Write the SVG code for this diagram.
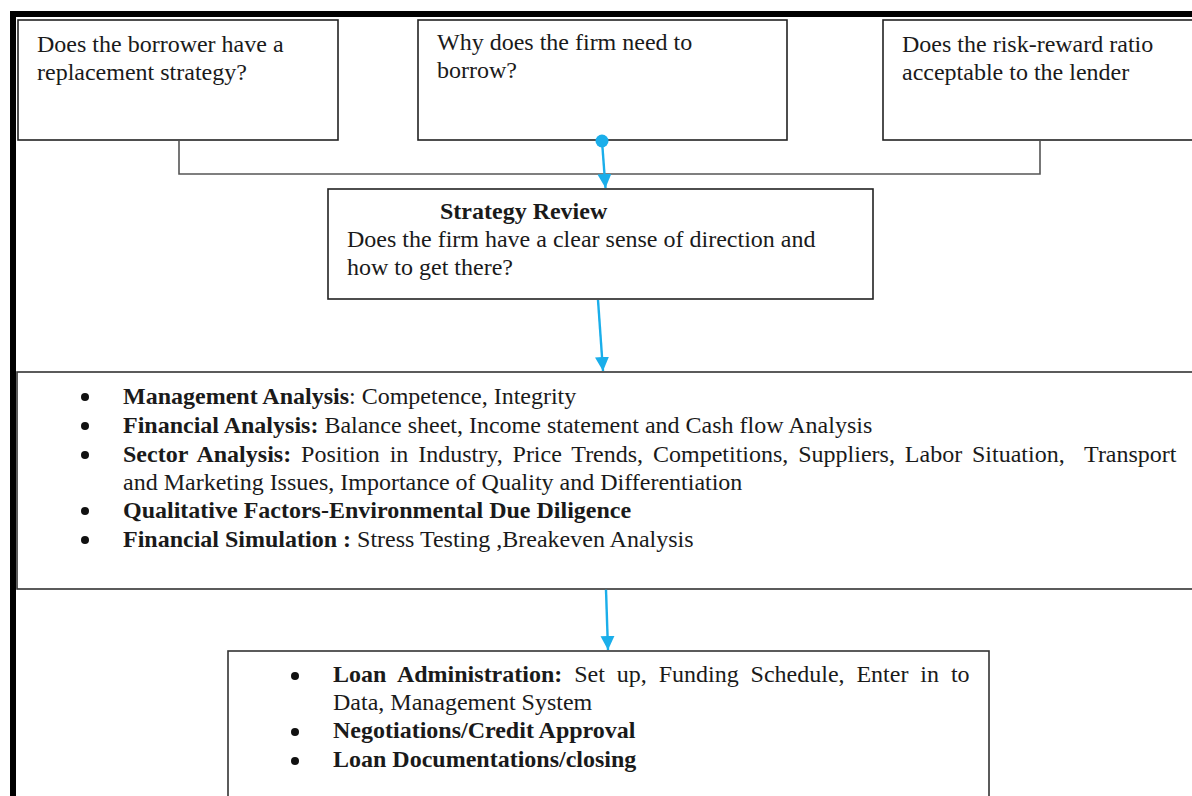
<svg xmlns="http://www.w3.org/2000/svg" width="1192" height="796" viewBox="0 0 1192 796">
<defs>
<style>
.box{fill:#fff;stroke:#222;stroke-width:1.6}
.t{font-family:"Liberation Serif","Times New Roman",serif;font-size:24px;fill:#1a1a1a}
.b{font-weight:bold}
.blue{stroke:#1aaeea;stroke-width:2.4;fill:none}
.bul{fill:#111}
</style>
<marker id="ah" markerUnits="userSpaceOnUse" markerWidth="16" markerHeight="16" refX="14" refY="7" orient="auto">
<path d="M0,0 L14,7 L0,14 Z" fill="#1aaeea"/>
</marker>
</defs>
<rect width="1192" height="796" fill="#fff"/>
<g id="frame">
<path d="M13,796 V14 H1192" fill="none" stroke="#000" stroke-width="6"/>
</g>
<g id="box1">
<rect class="box" x="18" y="20" width="320" height="120"/>
<text class="t" x="37" y="52">Does the borrower have a</text>
<text class="t" x="37" y="80">replacement strategy?</text>
</g>
<g id="box2">
<rect class="box" x="418" y="20" width="369" height="120"/>
<text class="t" x="437" y="50">Why does the firm need to</text>
<text class="t" x="437" y="78">borrow?</text>
</g>
<g id="box3">
<rect class="box" x="883" y="20" width="330" height="120"/>
<text class="t" x="902" y="52">Does the risk-reward ratio</text>
<text class="t" x="902" y="80">acceptable to the lender</text>
</g>
<g id="strategy">
<rect class="box" x="328" y="189" width="545" height="110"/>
<text class="t b" x="440" y="219">Strategy Review</text>
<text class="t" x="347" y="247">Does the firm have a clear sense of direction and</text>
<text class="t" x="347" y="275">how to get there?</text>
</g>
<g id="analysis">
<rect class="box" x="17" y="372" width="1190" height="217" style="stroke:#333"/>
<circle class="bul" cx="85" cy="397" r="4"/>
<circle class="bul" cx="85" cy="426" r="4"/>
<circle class="bul" cx="85" cy="455" r="4"/>
<circle class="bul" cx="85" cy="511" r="4"/>
<circle class="bul" cx="85" cy="540" r="4"/>
<text class="t" x="123" y="404"><tspan class="b">Management Analysis</tspan>: Competence, Integrity</text>
<text class="t" x="123" y="433"><tspan class="b">Financial Analysis:</tspan> Balance sheet, Income statement and Cash flow Analysis</text>
<text class="t" x="123" y="462" xml:space="preserve" style="word-spacing:3.9px"><tspan class="b">Sector Analysis:</tspan> Position in Industry, Price Trends, Competitions, Suppliers, Labor Situation,  Transport</text>
<text class="t" x="123" y="490">and Marketing Issues, Importance of Quality and Differentiation</text>
<text class="t b" x="123" y="518">Qualitative Factors-Environmental Due Diligence</text>
<text class="t" x="123" y="547"><tspan class="b">Financial Simulation :</tspan> Stress Testing ,Breakeven Analysis</text>
</g>
<g id="loan">
<rect class="box" x="228" y="651" width="761" height="160" style="stroke:#333"/>
<circle class="bul" cx="295" cy="676" r="4"/>
<circle class="bul" cx="295" cy="732" r="4"/>
<circle class="bul" cx="295" cy="761" r="4"/>
<text class="t" x="333" y="682" style="word-spacing:5.9px"><tspan class="b">Loan Administration:</tspan> Set up, Funding Schedule, Enter in to</text>
<text class="t" x="333" y="710">Data, Management System</text>
<text class="t b" x="333" y="738">Negotiations/Credit Approval</text>
<text class="t b" x="333" y="767">Loan Documentations/closing</text>
</g>
<g id="connectors">
<path d="M179,140.8 V174 H1040 V140.8" fill="none" stroke="#555" stroke-width="1.6"/>
<line class="blue" x1="602" y1="141" x2="605.5" y2="188" marker-end="url(#ah)"/>
<circle cx="602" cy="141" r="6.5" fill="#1aaeea"/>
<line class="blue" x1="598" y1="300" x2="603" y2="371" marker-end="url(#ah)"/>
<line class="blue" x1="606" y1="589.8" x2="608" y2="650" marker-end="url(#ah)"/>
</g>
</svg>
